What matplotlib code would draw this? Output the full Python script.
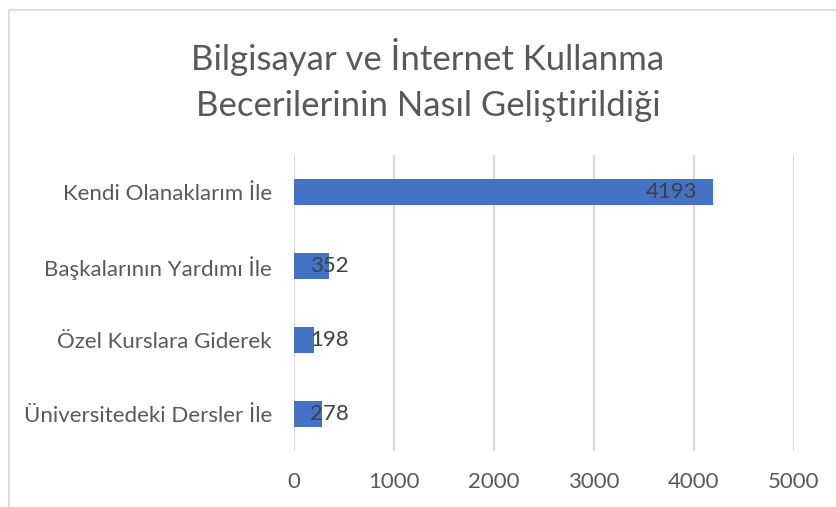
import matplotlib.pyplot as plt
from matplotlib.patches import Rectangle

categories = ['Kendi Olanaklarım İle', 'Başkalarının Yardımı İle',
              'Özel Kurslara Giderek', 'Üniversitedeki Dersler İle']
values = [4193, 352, 198, 278]
xticks = [0, 1000, 2000, 3000, 4000, 5000]
title = 'Bilgisayar ve İnternet Kullanma\nBecerilerinin Nasıl Geliştirildiği'

plt.rcParams['font.family'] = ['Lato', 'DejaVu Sans']

fig = plt.figure(figsize=(8.36, 5.07), dpi=100)
fig.patches.append(Rectangle((9 / 836, -0.05), 1.0, 1.05 - 10 / 507,
                             transform=fig.transFigure, fill=False,
                             edgecolor='#d9d9d9', linewidth=1.2))

ax = fig.add_axes([294 / 836, 1 - 451 / 507, 500 / 836, 296 / 507])
ypos = list(range(len(categories)))
ax.barh(ypos, values, height=0.35, color='#4472c4', zorder=3)
ax.set_ylim(len(categories) - 0.5, -0.5)
ax.set_xlim(0, 5000)
ax.set_xticks(xticks)
ax.set_xticklabels([str(t) for t in xticks])
ax.set_yticks(ypos)
ax.set_yticklabels(categories)
ax.tick_params(axis='both', length=0, labelsize=16, labelcolor='#595959')
ax.tick_params(axis='x', pad=15)
ax.tick_params(axis='y', pad=16)
ax.grid(axis='x', color='#d9d9d9', linewidth=1.5, zorder=0)
for s in ax.spines.values():
    s.set_visible(False)

for y, v in zip(ypos, values):
    if v > 700:
        ax.annotate(str(v), (v, y), xytext=(-11.5, 0), textcoords='offset points',
                    ha='right', va='center', fontsize=16, color='#404040', zorder=4)
    else:
        ax.annotate(str(v), (0, y), xytext=(11.5, 0), textcoords='offset points',
                    ha='left', va='center', fontsize=16, color='#404040', zorder=4)

fig.text(428 / 836, 1 - 80 / 507, title, ha='center', va='center',
         fontsize=25, color='#595959', linespacing=1.55)

fig.savefig('out.png', dpi=100)
